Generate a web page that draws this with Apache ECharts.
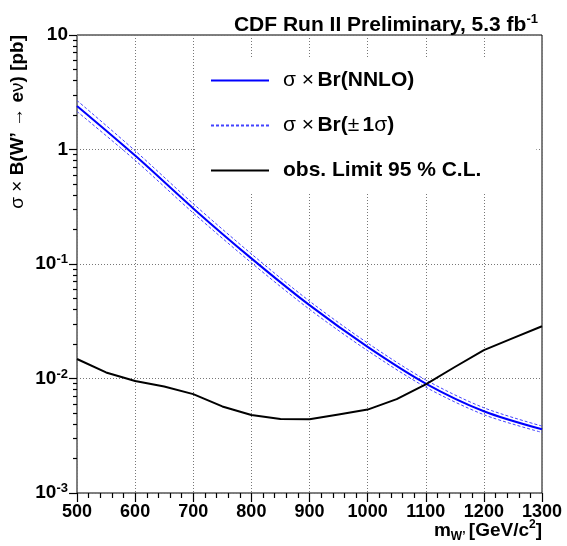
<!DOCTYPE html>
<html>
<head>
<meta charset="utf-8">
<script src="https://cdn.jsdelivr.net/npm/echarts@6/dist/echarts.min.js"></script>
<style>
  html, body { margin: 0; padding: 0; background: #fff; }
  #chart { width: 567px; height: 546px; }
</style>
</head>
<body>
<div id="chart"></div>
<script>
// theory curve, W' mass in GeV/c^2, sigma x Br in pb
var massTheory = [500, 600, 700, 800, 900, 1000, 1100, 1200, 1300];
var xsecNNLO = [2.40, 0.885, 0.306, 0.112, 0.0437, 0.0189, 0.00904, 0.00518, 0.0036];
var xsecUp   = [2.68, 0.975, 0.336, 0.1225, 0.0474, 0.0204, 0.00972, 0.00555, 0.00384];
var xsecDown = [2.15, 0.805, 0.279, 0.1025, 0.0402, 0.0175, 0.00840, 0.00483, 0.00338];

// observed 95% CL limit
var massLimit = [500, 550, 600, 650, 700, 750, 800, 850, 900, 950, 1000, 1050, 1100, 1150, 1200, 1250, 1300];
var obsLimit = [0.0148, 0.0113, 0.0095, 0.0085, 0.0073, 0.0057, 0.0048, 0.00443, 0.0044, 0.00485, 0.00535, 0.0066, 0.0089, 0.0126, 0.0177, 0.0225, 0.0286];

var seriesNames = ['σ × Br(NNLO)', 'σ × Br(± 1σ)', 'obs. Limit 95 % C.L.'];

var FONT = 'Liberation Sans, Arial, Helvetica, sans-serif';

function pairs(xs, ys) {
  var out = [];
  for (var i = 0; i < xs.length; i++) out.push([xs[i], ys[i]]);
  return out;
}

var chart = echarts.init(document.getElementById('chart'));

var gridLine = { show: true, lineStyle: { color: '#777', type: [1, 2], width: 1 } };
var tickStyle = { color: '#000', width: 1.2 };

var option = {
  animation: false,
  textStyle: { fontFamily: FONT },
  title: {
    text: '{a|CDF Run II Preliminary, 5.3 fb}{s|-1}',
    right: 24,
    top: 8,
    textStyle: {
      rich: {
        a: { fontFamily: FONT, fontSize: 21, fontWeight: 'bold', color: '#000', lineHeight: 25 },
        s: { fontFamily: FONT, fontSize: 13, fontWeight: 'bold', color: '#000', verticalAlign: 'top', lineHeight: 13 }
      }
    }
  },
  // frame drawn by the grid border
  grid: {
    left: 77, right: 25, top: 35, bottom: 53,
    show: true, borderColor: '#000', borderWidth: 1
  },
  legend: {
    orient: 'vertical',
    left: 197,
    top: 58,
    padding: [12, 55, 12, 13],
    backgroundColor: '#fff',
    itemWidth: 58,
    itemHeight: 14,
    itemGap: 24,
    itemStyle: { opacity: 0 },
    data: seriesNames,
    formatter: function (name) {
      if (name === seriesNames[0]) return '{n|σ ×} {b|Br(NNLO)}';
      if (name === seriesNames[1]) return '{n|σ ×} {b|Br(}{n|±} {b|1}{n|σ}{b|)}';
      return '{b|obs. Limit 95 % C.L.}';
    },
    textStyle: {
      padding: [0, 0, 0, 9],
      rich: {
        n: { fontFamily: FONT, fontSize: 21, color: '#000' },
        b: { fontFamily: FONT, fontSize: 21, fontWeight: 'bold', color: '#000' }
      }
    }
  },
  xAxis: {
    type: 'value',
    min: 500,
    max: 1300,
    interval: 100,
    axisLine: { show: false },
    axisTick: { show: true, length: 9, lineStyle: tickStyle },
    minorTick: { show: true, splitNumber: 5, length: 5, lineStyle: tickStyle },
    splitLine: gridLine,
    axisLabel: {
      margin: 10,
      color: '#000',
      fontFamily: FONT,
      fontSize: 18,
      fontWeight: 'bold',
      formatter: function (v) { return String(v); }
    }
  },
  yAxis: {
    type: 'log',
    logBase: 10,
    min: 0.001,
    max: 10,
    axisLine: { show: false },
    axisTick: { show: true, length: 8, lineStyle: tickStyle },
    minorTick: { show: true, splitNumber: 9, length: 4, lineStyle: tickStyle },
    splitLine: gridLine,
    axisLabel: {
      margin: 9,
      formatter: function (v) {
        var e = Math.round(Math.log10(v));
        if (e === 0) return '{b|1}';
        if (e === 1) return '{b|10}';
        return '{b|10}{s|' + e + '}';
      },
      rich: {
        b: { fontFamily: FONT, fontSize: 19, fontWeight: 'bold', color: '#000', lineHeight: 22 },
        s: { fontFamily: FONT, fontSize: 13, fontWeight: 'bold', color: '#000', verticalAlign: 'top', lineHeight: 13 }
      }
    }
  },
  series: [{
    name: seriesNames[0],
    type: 'line',
    symbol: 'none',
    smooth: 0.3,
    data: pairs(massTheory, xsecNNLO),
    lineStyle: { color: '#0000ff', width: 2 },
    itemStyle: { color: '#0000ff' },
    z: 3
  }, {
    name: seriesNames[1],
    type: 'line',
    symbol: 'none',
    smooth: 0.3,
    data: pairs(massTheory, xsecUp),
    lineStyle: { color: '#4444ff', width: 1, type: [3, 2] },
    itemStyle: { color: '#4444ff' }
  }, {
    name: seriesNames[1],
    type: 'line',
    symbol: 'none',
    smooth: 0.3,
    data: pairs(massTheory, xsecDown),
    lineStyle: { color: '#4444ff', width: 1, type: [3, 2] },
    itemStyle: { color: '#4444ff' }
  }, {
    name: seriesNames[2],
    type: 'line',
    symbol: 'none',
    data: pairs(massLimit, obsLimit),
    lineStyle: { color: '#000', width: 2 },
    itemStyle: { color: '#000' }
  }],
  graphic: [{
    // x axis title
    type: 'text',
    right: 25,
    bottom: 3,
    style: {
      text: '{b|m}{sub|W’} {b|[GeV/c}{sup|2}{b|]}',
      rich: {
        b: { fontFamily: FONT, fontSize: 19, fontWeight: 'bold', fill: '#000', lineHeight: 24 },
        sub: { fontFamily: FONT, fontSize: 12, fontWeight: 'bold', fill: '#000', verticalAlign: 'bottom', lineHeight: 12 },
        sup: { fontFamily: FONT, fontSize: 12, fontWeight: 'bold', fill: '#000', verticalAlign: 'top', lineHeight: 12 }
      }
    }
  }, {
    // y axis title
    type: 'text',
    x: 18,
    y: 35,
    rotation: Math.PI / 2,
    style: {
      text: '{n|σ × }{b|B(W’ }{n|→}{b| e}{n|ν}{b|) [pb]}',
      align: 'right',
      verticalAlign: 'middle',
      rich: {
        n: { fontFamily: FONT, fontSize: 19, fill: '#000' },
        b: { fontFamily: FONT, fontSize: 19, fontWeight: 'bold', fill: '#000' }
      }
    }
  }]
};

chart.setOption(option);
</script>
</body>
</html>
